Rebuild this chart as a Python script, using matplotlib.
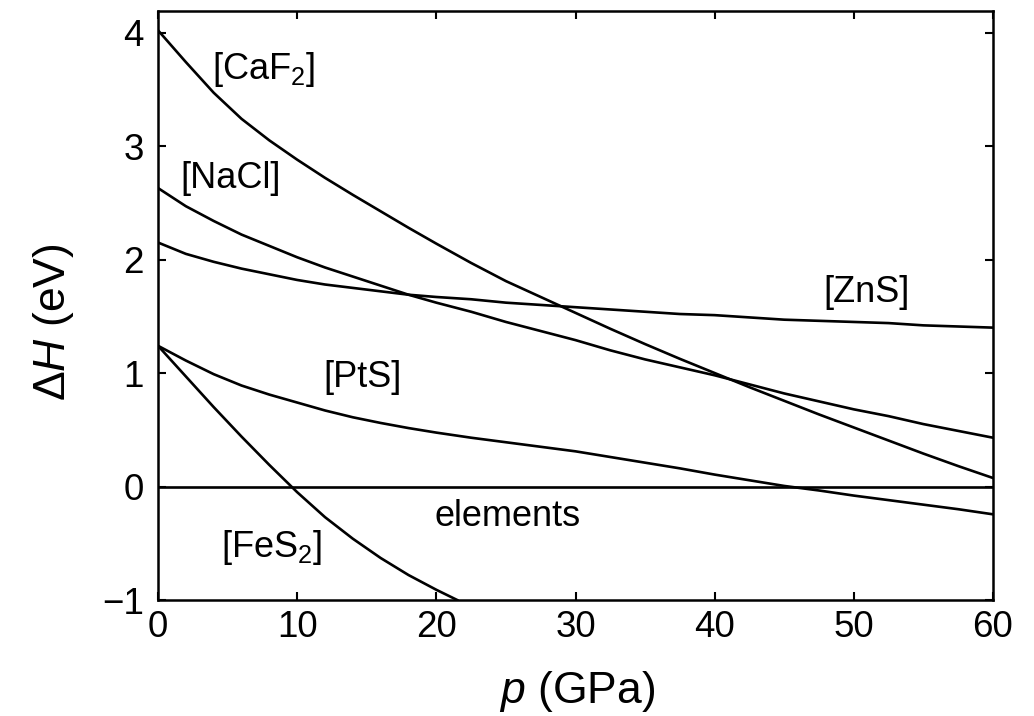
import matplotlib
matplotlib.use("Agg")
import matplotlib.pyplot as plt

plt.rcParams['font.family'] = ['Liberation Sans', 'DejaVu Sans']
plt.rcParams['mathtext.fontset'] = 'custom'
plt.rcParams['mathtext.rm'] = 'Liberation Sans'
plt.rcParams['mathtext.it'] = 'Liberation Sans:italic'
plt.rcParams['mathtext.default'] = 'regular'

# enthalpy of formation (eV) vs pressure (GPa) for each structure
caf2_p = [0, 2, 4, 6, 8, 10, 12, 14, 16, 18, 20, 22.5, 25, 27.5, 30, 32.5, 35,
          37.5, 40, 42.5, 45, 47.5, 50, 52.5, 55, 57.5, 60]
caf2_dH = [4.02, 3.74, 3.47, 3.24, 3.05, 2.88, 2.72, 2.57, 2.425, 2.28, 2.14, 1.97,
           1.81, 1.67, 1.53, 1.39, 1.255, 1.125, 1.00, 0.875, 0.755, 0.635, 0.52,
           0.405, 0.29, 0.18, 0.075]

nacl_p = [0, 2, 4, 6, 8, 10, 12, 14, 16, 18, 20, 22.5, 25, 27.5, 30, 32.5, 35,
          37.5, 40, 42.5, 45, 47.5, 50, 52.5, 55, 57.5, 60]
nacl_dH = [2.63, 2.47, 2.34, 2.22, 2.12, 2.02, 1.93, 1.85, 1.77, 1.69, 1.62, 1.54,
           1.45, 1.37, 1.29, 1.20, 1.12, 1.05, 0.98, 0.90, 0.82, 0.75, 0.68,
           0.62, 0.55, 0.49, 0.43]

zns_p = [0, 2, 4, 6, 8, 10, 12, 14, 16, 18, 20, 22.5, 25, 27.5, 30, 32.5, 35,
         37.5, 40, 42.5, 45, 47.5, 50, 52.5, 55, 57.5, 60]
zns_dH = [2.15, 2.05, 1.98, 1.92, 1.87, 1.82, 1.78, 1.75, 1.72, 1.69, 1.67, 1.65,
          1.62, 1.60, 1.58, 1.56, 1.54, 1.52, 1.51, 1.49, 1.47, 1.46, 1.45,
          1.44, 1.42, 1.41, 1.40]

pts_p = [0, 2, 4, 6, 8, 10, 12, 14, 16, 18, 20, 22.5, 25, 27.5, 30, 32.5, 35,
         37.5, 40, 42.5, 45, 47.5, 50, 52.5, 55, 57.5, 60]
pts_dH = [1.24, 1.11, 0.99, 0.89, 0.81, 0.74, 0.67, 0.61, 0.56, 0.515, 0.475, 0.43,
          0.39, 0.35, 0.31, 0.26, 0.21, 0.16, 0.105, 0.055, 0.005, -0.035, -0.08,
          -0.12, -0.16, -0.20, -0.245]

fes2_p = [0, 2, 4, 6, 8, 10, 12, 14, 16, 18, 20, 21.5]
fes2_dH = [1.24, 0.97, 0.70, 0.44, 0.19, -0.05, -0.27, -0.46, -0.63, -0.78,
           -0.91, -1.00]

elements_p = [0, 60]
elements_dH = [0, 0]

x_ticks = [0, 10, 20, 30, 40, 50, 60]
y_ticks = [-1, 0, 1, 2, 3, 4]

fig = plt.figure(figsize=(10.34, 7.16), dpi=100)
ax = fig.add_axes([158 / 1034, 1 - 600 / 716, 835 / 1034, 589 / 716])

for p, dH in [(caf2_p, caf2_dH), (nacl_p, nacl_dH), (zns_p, zns_dH),
              (pts_p, pts_dH), (fes2_p, fes2_dH), (elements_p, elements_dH)]:
    ax.plot(p, dH, color='black', lw=1.9)

ax.set_xlim(0, 60)
ax.set_ylim(-1, 4.19)
ax.set_xticks(x_ticks)
ax.set_yticks(y_ticks)
ax.tick_params(direction='in', top=True, right=True, length=6, width=1.5,
               labelsize=26.5)
ax.tick_params(axis='x', pad=7)
ax.tick_params(axis='y', pad=10)
for s in ax.spines.values():
    s.set_linewidth(1.8)

fs = 26
ax.text(3.9, 3.59, '[CaF$_2$]', fontsize=fs, va='baseline')
ax.text(1.58, 2.63, '[NaCl]', fontsize=fs, va='baseline')
ax.text(47.8, 1.63, '[ZnS]', fontsize=fs, va='baseline')
ax.text(11.86, 0.88, '[PtS]', fontsize=fs, va='baseline')
ax.text(19.9, -0.35, 'elements', fontsize=fs, va='baseline')
ax.text(4.5, -0.62, '[FeS$_2$]', fontsize=fs, va='baseline')

fig.text(54 / 1034, 1 - 322 / 716, r'Δ$\mathit{H}$ (eV)', fontsize=32,
         rotation=90, ha='center', va='center')
fig.text(577 / 1034, 1 - 692 / 716, r'$\mathit{p}$ (GPa)', fontsize=32,
         ha='center', va='center')

fig.savefig('out.png', dpi=100)
